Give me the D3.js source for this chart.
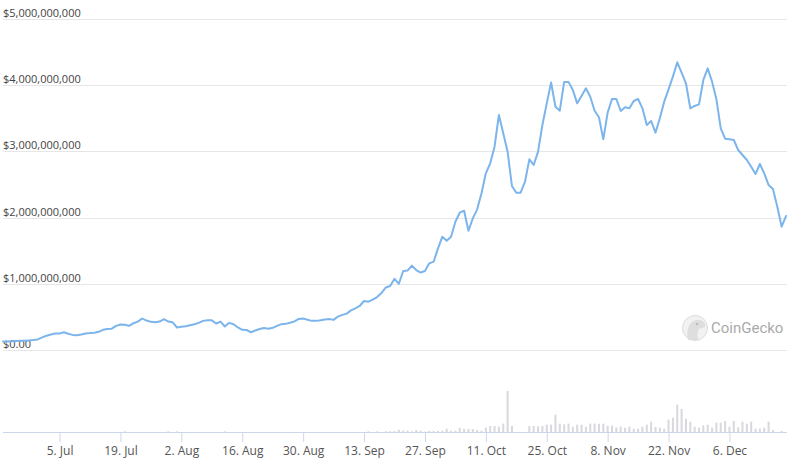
<!DOCTYPE html>
<html>
<head>
<meta charset="utf-8">
<script src="https://cdn.jsdelivr.net/npm/d3@7"></script>
<style>
  html, body { margin: 0; padding: 0; background: #fff; }
  svg { display: block; font-family: "Open Sans", "Segoe UI", sans-serif; }
</style>
</head>
<body>
<svg id="chart" width="798" height="462"></svg>
<script>
// ---- data ----
const startDate = "2021-06-22";
// market cap in millions USD, one value per day
const marketCap = [
  130,130,132,135,138,140,145,150,160,190,
  215,235,248,250,268,245,228,222,235,250,
  255,262,275,305,318,322,365,385,380,365,
  405,428,475,445,425,418,430,465,430,418,
  340,350,358,375,388,410,440,448,448,400,
  428,355,410,390,340,305,302,268,295,318,
  332,320,335,365,390,395,412,432,470,475,
  458,440,440,448,460,468,455,505,530,550,
  598,630,665,740,730,760,800,860,945,967,
  1075,1000,1193,1200,1274,1208,1170,1193,1309,1334,
  1536,1712,1651,1712,1938,2074,2104,1802,1989,2125,
  2367,2669,2820,3071,3550,3273,2996,2477,2376,2376,
  2542,2880,2795,2996,3399,3726,4040,3675,3615,4050,
  4050,3927,3726,3837,3953,3826,3615,3515,3182,3585,
  3792,3792,3610,3666,3651,3761,3792,3651,3399,3459,
  3283,3500,3751,3938,4129,4346,4189,4029,3651,3686,
  3711,4079,4255,4054,3787,3349,3192,3182,3172,3021,
  2946,2870,2769,2659,2810,2669,2492,2432,2165,1863,
  2024
];
// volume (relative units), one value per day
const volume = [
  0,0,0,0,0,0,0,0,0,0,
  0,0,0,0,0,0,0,0,0,0,
  0,0,0,0,0,0,0,0,2,0,
  0,0,0,0,0,0,0,0,2,0,
  2,0,0,0,0,0,0,0,0,0,
  0,2,0,0,0,0,0,0,0,0,
  0,0,0,0,0,0,0,0,0,0,
  0,0,0,0,0,0,0,0,0,0,
  0,0,0,0,2,0,2,0,2,2,
  3,7,4,4,2,6,4,1,3,3,
  3,4,10,4,4,12,9,9,9,6,
  4,13,18,18,16,25,123,18,0,0,
  0,18,18,17,18,22,22,52,25,23,
  25,16,22,22,16,25,25,25,25,19,
  19,14,16,13,16,10,10,16,22,31,
  15,13,10,37,43,82,69,40,31,16,
  13,20,22,13,28,28,33,16,33,14,
  31,25,31,10,10,13,31,6,0,3,
  0
];
const yTicks = [0, 1e9, 2e9, 3e9, 4e9, 5e9];
const xTickDates = ["2021-07-05","2021-07-19","2021-08-02","2021-08-16","2021-08-30","2021-09-13",
                    "2021-09-27","2021-10-11","2021-10-25","2021-11-08","2021-11-22","2021-12-06"];

// ---- build ----
const parse = d3.utcParse("%Y-%m-%d");
const start = parse(startDate);
const rows = marketCap.map((v, i) => ({ date: d3.utcDay.offset(start, i), cap: v * 1e6, vol: volume[i] }));

const svg = d3.select("#chart");
const x = d3.scaleUtc().domain([rows[0].date, rows[rows.length - 1].date]).range([3, 786]);
const y = d3.scaleLinear().domain([0, 5e9]).range([350, 19]);
const yv = d3.scaleLinear().domain([0, 150]).range([432, 382]);

// gridlines + y labels
const fmt = d3.format(",");
const gy = svg.append("g");
gy.selectAll("line").data(yTicks).join("line")
  .attr("x1", 3).attr("x2", 787)
  .attr("y1", d => Math.round(y(d)) + 0.5).attr("y2", d => Math.round(y(d)) + 0.5)
  .attr("stroke", "#e6e6e6").attr("stroke-width", 1);
gy.selectAll("text").data(yTicks).join("text")
  .attr("x", 3).attr("y", d => Math.round(y(d)) - 2)
  .attr("font-size", 11).attr("fill", "#444")
  .text(d => d === 0 ? "$0.00" : "$" + fmt(d));

// watermark
const wm = svg.append("g").attr("opacity", 1);
wm.append("circle").attr("cx", 695).attr("cy", 328).attr("r", 12.5)
  .attr("fill", "#f2f2f2").attr("stroke", "#dcdcdc").attr("stroke-width", 1);
wm.append("path")
  .attr("d", "M688,340 C686,332 688,322 696,320 C702,319 706,323 705,327 L699,329 C697,333 697,337 699,340 Z")
  .attr("fill", "#dedede");
wm.append("circle").attr("cx", 697).attr("cy", 324).attr("r", 1.3).attr("fill", "#bbb");
wm.append("text").attr("x", 711).attr("y", 333)
  .attr("font-family", "Roboto, 'Open Sans', sans-serif")
  .attr("font-size", 15).attr("fill", "#aaa").text("CoinGecko");

// volume bars
svg.append("g").selectAll("rect").data(rows.filter(d => d.vol > 0)).join("rect")
  .attr("x", d => x(d.date) - 1).attr("width", 2)
  .attr("y", d => yv(d.vol)).attr("height", d => yv(0) - yv(d.vol))
  .attr("fill", "#d8d8de");

// x axis
const xAxis = d3.axisBottom(x)
  .tickValues(xTickDates.map(parse))
  .tickFormat(d3.utcFormat("%-d. %b"))
  .tickSize(10).tickPadding(4);
const ga = svg.append("g").attr("transform", "translate(0,432)").call(xAxis);
ga.select(".domain").attr("d", "M3,0.5H787").attr("stroke", "#ccd6eb");
ga.selectAll(".tick line").attr("stroke", "#ccd6eb");
ga.selectAll(".tick text").attr("fill", "#555").attr("font-size", 12)
  .attr("font-family", "'Open Sans', sans-serif");

// line
const line = d3.line().x(d => x(d.date)).y(d => y(d.cap)).curve(d3.curveLinear);
svg.append("path").datum(rows)
  .attr("d", line).attr("fill", "none")
  .attr("stroke", "#7cb5ec").attr("stroke-width", 2)
  .attr("stroke-linejoin", "round").attr("stroke-linecap", "round");
</script>
</body>
</html>
